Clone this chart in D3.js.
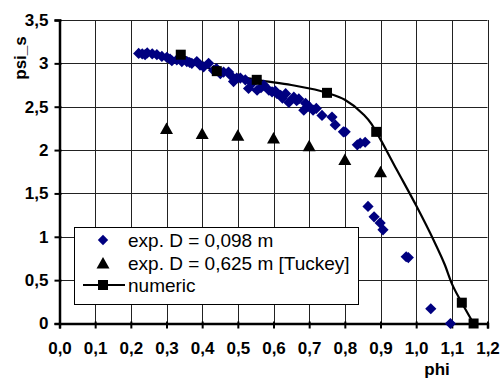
<!DOCTYPE html>
<html>
<head>
<meta charset="utf-8">
<script src="https://cdn.jsdelivr.net/npm/d3@7"></script>
<style>
body { margin: 0; background: #fff; }
svg { display: block; font-family: "Liberation Sans", Arial, sans-serif; }
</style>
</head>
<body>
<svg id="chart"></svg>
<script>
const width = 502, height = 378

// exp. D = 0,098 m (blue diamonds)
const smallPhi = [0.222, 0.232, 0.246, 0.260, 0.273, 0.287, 0.301, 0.315, 0.329, 0.343, 0.357, 0.371, 0.385,
    0.394, 0.404, 0.418, 0.432, 0.451, 0.460, 0.474, 0.488, 0.497, 0.507, 0.521, 0.530, 0.554, 0.573, 0.587,
    0.596, 0.610, 0.620, 0.634, 0.643, 0.657, 0.671, 0.685, 0.690, 0.711, 0.736, 0.764, 0.773, 0.796, 0.801,
    0.843, 0.857, 0.865, 0.882, 0.899, 0.907, 0.972, 0.978, 1.041, 1.096,
    0.240, 0.310, 0.365, 0.440, 0.480, 0.540, 0.565, 0.605, 0.625, 0.665, 0.700, 0.720, 0.835]
const smallPsi = [3.115, 3.11, 3.12, 3.11, 3.10, 3.08, 3.07, 3.03, 3.04, 3.02, 3.02, 3.00, 3.02,
    2.98, 2.96, 3.00, 2.92, 2.88, 2.90, 2.90, 2.79, 2.83, 2.83, 2.81, 2.71, 2.69, 2.75, 2.69,
    2.67, 2.65, 2.63, 2.65, 2.55, 2.61, 2.59, 2.46, 2.54, 2.46, 2.40, 2.38, 2.29, 2.21, 2.21,
    2.08, 2.09, 1.35, 1.23, 1.16, 1.08, 0.77, 0.76, 0.17, 0.0,
    3.10, 3.05, 3.01, 2.94, 2.86, 2.77, 2.72, 2.68, 2.60, 2.57, 2.50, 2.48, 2.06]

// exp. D = 0,625 m [Tuckey] (triangles)
const tuckeyPhi = [0.3, 0.4, 0.5, 0.6, 0.7, 0.8, 0.9]
const tuckeyPsi = [2.25, 2.19, 2.17, 2.14, 2.05, 1.89, 1.75]

// numeric (squares + line)
const numPhi = [0.34, 0.441, 0.553, 0.75, 0.888, 1.128, 1.161]
const numPsi = [3.10, 2.91, 2.81, 2.66, 2.21, 0.24, 0.0]
const curvePhi = [0.34, 0.441, 0.553, 0.65, 0.75, 0.80, 0.85, 0.875, 0.888, 0.946, 1.0, 1.049, 1.08, 1.10, 1.128, 1.161]
const curvePsi = [3.10, 2.91, 2.81, 2.75, 2.66, 2.58, 2.42, 2.30, 2.21, 1.77, 1.36, 0.96, 0.68, 0.46, 0.24, 0.0]

const xTicks = [0, 0.1, 0.2, 0.3, 0.4, 0.5, 0.6, 0.7, 0.8, 0.9, 1.0, 1.1, 1.2]
const yTicks = [0, 0.5, 1, 1.5, 2, 2.5, 3, 3.5]
const legendLabels = ["exp. D = 0,098 m", "exp. D = 0,625 m [Tuckey]", "numeric"]

const margin = {left: 59.5, right: 14.5, top: 20, bottom: 54.5}

const svg = d3.select("#chart").attr("width", width).attr("height", height)

const x = d3.scaleLinear().domain([0, 1.2]).range([margin.left, width - margin.right])
const y = d3.scaleLinear().domain([0, 3.5]).range([height - margin.bottom, margin.top])

const comma = s => s.replace(".", ",")

// grid
const grid = svg.append("g").attr("stroke", "#222").attr("stroke-width", 1)
grid.selectAll("line.v").data(xTicks.slice(1)).enter().append("line")
    .attr("x1", d => Math.round(x(d)) + 0.5).attr("x2", d => Math.round(x(d)) + 0.5)
    .attr("y1", y(3.5)).attr("y2", y(0))
grid.selectAll("line.h").data(yTicks.slice(1)).enter().append("line")
    .attr("x1", x(0)).attr("x2", x(1.2))
    .attr("y1", d => Math.round(y(d)) + 0.5).attr("y2", d => Math.round(y(d)) + 0.5)

// axes
const xAxis = svg.append("g")
    .attr("transform", `translate(0,${y(0)})`)
    .call(d3.axisBottom(x).tickValues(xTicks).tickSize(5).tickPadding(13)
        .tickFormat(d => comma(d3.format(".1f")(d))))
const yAxis = svg.append("g")
    .attr("transform", `translate(${x(0)},0)`)
    .call(d3.axisLeft(y).tickValues(yTicks).tickSize(5).tickPadding(6)
        .tickFormat(d => comma(String(d))))

for (const ax of [xAxis, yAxis]) {
    ax.select(".domain").attr("stroke", "#000").attr("stroke-width", 2.5)
    ax.selectAll(".tick line").attr("stroke", "#000").attr("stroke-width", 2)
    ax.selectAll(".tick text").attr("fill", "#000").attr("font-size", 17).attr("font-weight", "bold")
        .attr("font-family", "Liberation Sans, Arial, sans-serif")
}
// ticks cross the axis slightly
xAxis.selectAll(".tick").append("line").attr("y1", -2).attr("y2", 0).attr("stroke", "#000").attr("stroke-width", 2)
yAxis.selectAll(".tick").append("line").attr("x1", 0).attr("x2", 2).attr("stroke", "#000").attr("stroke-width", 2)

svg.append("text").attr("x", 437).attr("y", 375)
    .attr("text-anchor", "middle").attr("font-size", 17).attr("font-weight", "bold").text("phi")
svg.append("text").attr("transform", "translate(26,58) rotate(-90)")
    .attr("text-anchor", "middle").attr("font-size", 17).attr("font-weight", "bold").text("psi_s")

// marker shapes
const diamond = r => `M0,${-r}L${r},0L0,${r}L${-r},0Z`
const triangle = "M0,-6L6.5,5.5L-6.5,5.5Z"

// numeric line
const line = d3.line().x(d => x(d[0])).y(d => y(d[1])).curve(d3.curveMonotoneX)
svg.append("path")
    .datum(d3.zip(curvePhi, curvePsi))
    .attr("fill", "none").attr("stroke", "#000").attr("stroke-width", 2.2)
    .attr("d", line)

// diamonds
svg.append("g").selectAll("path")
    .data(d3.zip(smallPhi, smallPsi)).enter().append("path")
    .attr("transform", d => `translate(${x(d[0])},${y(d[1])})`)
    .attr("d", diamond(5.6))
    .attr("fill", "#000080")

// triangles
svg.append("g").selectAll("path")
    .data(d3.zip(tuckeyPhi, tuckeyPsi)).enter().append("path")
    .attr("transform", d => `translate(${x(d[0])},${y(d[1])})`)
    .attr("d", triangle)
    .attr("fill", "#000")

// squares
svg.append("g").selectAll("rect")
    .data(d3.zip(numPhi, numPsi)).enter().append("rect")
    .attr("x", d => x(d[0]) - 5).attr("y", d => y(d[1]) - 5)
    .attr("width", 10).attr("height", 10)
    .attr("fill", "#000")

// legend
const legend = svg.append("g")
legend.append("rect").attr("x", 74.5).attr("y", 227.5).attr("width", 284).attr("height", 77)
    .attr("fill", "#fff").attr("stroke", "#000").attr("stroke-width", 1)
const rowY = [240, 263, 285]
legend.selectAll("text").data(legendLabels).enter().append("text")
    .attr("x", 128).attr("y", (d, i) => rowY[i]).attr("dy", "0.36em")
    .attr("font-size", 19).attr("fill", "#000").text(d => d)
legend.append("path").attr("transform", `translate(103,${rowY[0]})`).attr("d", diamond(5.2)).attr("fill", "#000080")
legend.append("path").attr("transform", `translate(103,${rowY[1]})`).attr("d", triangle).attr("fill", "#000")
legend.append("line").attr("x1", 83).attr("x2", 125).attr("y1", rowY[2]).attr("y2", rowY[2])
    .attr("stroke", "#000").attr("stroke-width", 2.2)
legend.append("rect").attr("x", 98).attr("y", rowY[2] - 5).attr("width", 10).attr("height", 10).attr("fill", "#000")
</script>
</body>
</html>
